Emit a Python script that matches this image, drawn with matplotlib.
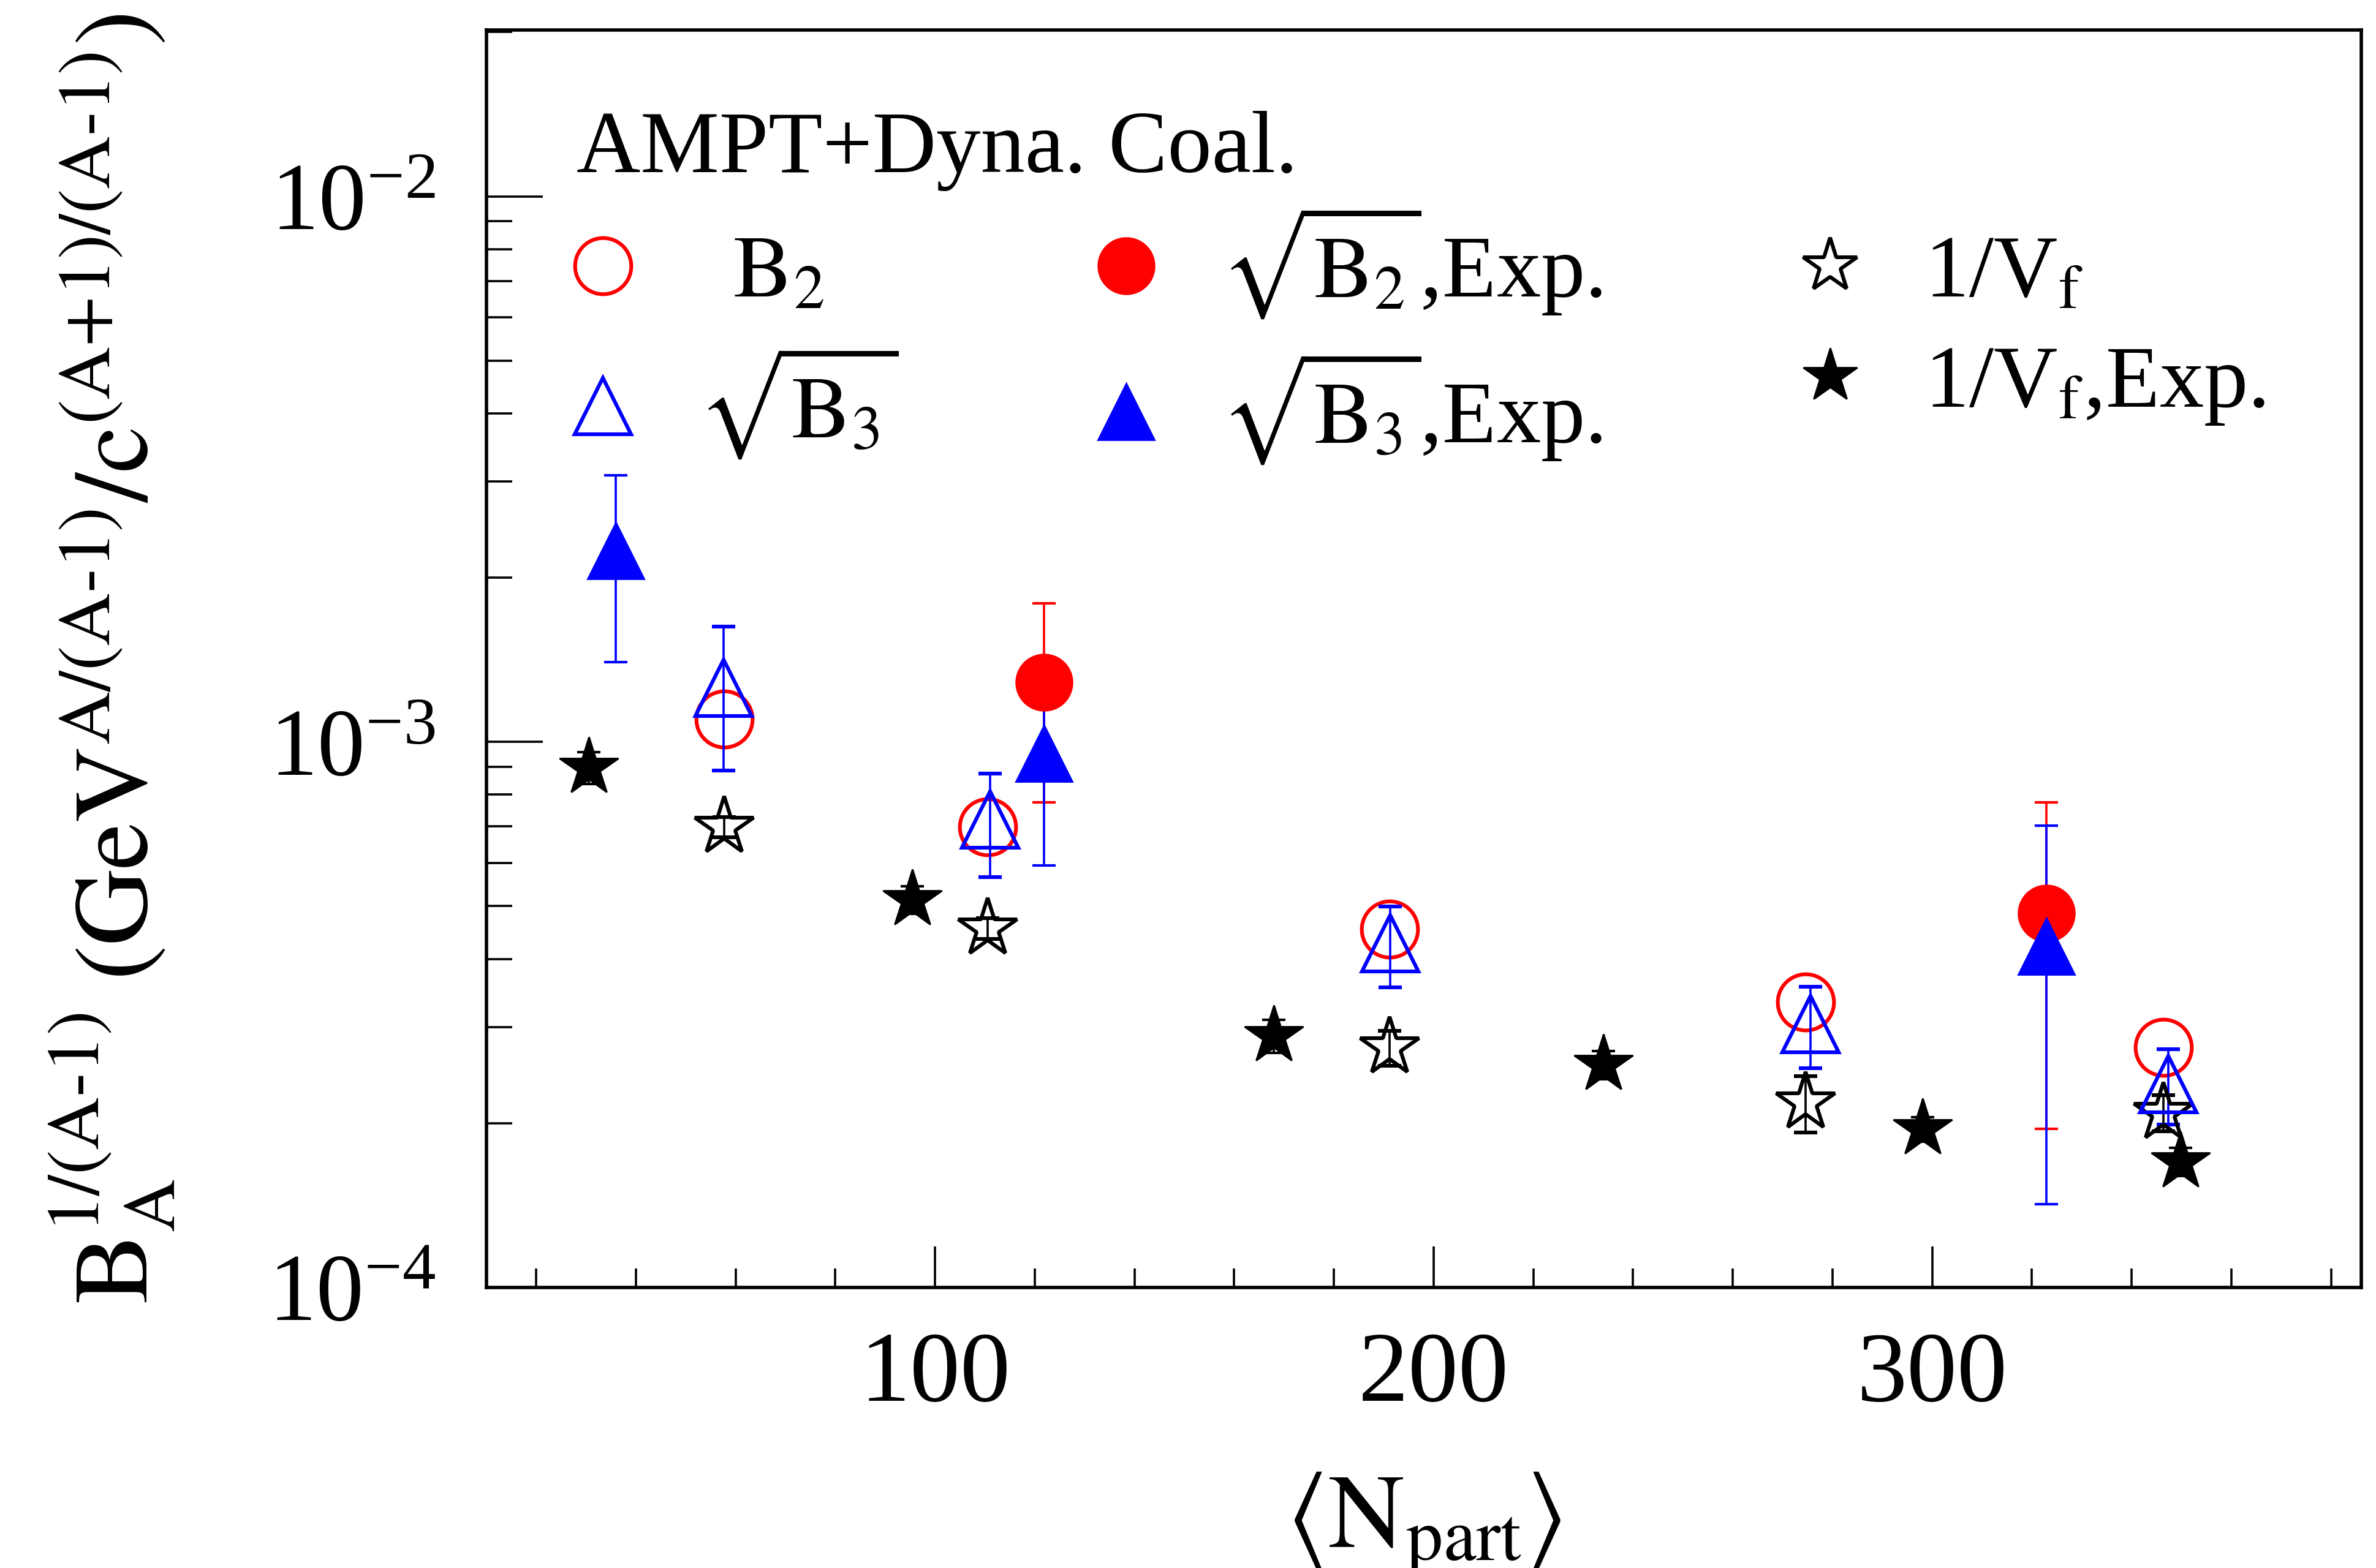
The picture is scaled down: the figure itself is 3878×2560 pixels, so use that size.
import matplotlib
matplotlib.use('Agg')
import matplotlib.pyplot as plt
from matplotlib.lines import Line2D
from matplotlib.ticker import MultipleLocator, LogLocator, NullFormatter

plt.rcParams['font.family'] = ['Liberation Serif', 'DejaVu Serif']
plt.rcParams['mathtext.fontset'] = 'stix'
plt.rcParams['axes.unicode_minus'] = False

# AMPT + dynamical coalescence (model)
npart_b2 = [57.7, 110.6, 191.2, 274.6, 346.3]
b2 = [1.10e-3, 6.98e-4, 4.53e-4, 3.33e-4, 2.75e-4]

npart_b3 = [57.6, 111.0, 191.3, 275.6, 347.4]
b3 = [1.256e-3, 7.2e-4, 4.27e-4, 3.04e-4, 2.36e-4]
b3_err = [3.7e-4, 1.55e-4, 7.2e-5, 5.2e-5, 3.7e-5]

npart_vf = [57.7, 110.6, 191.2, 274.6, 346.3]
inv_vf = [6.98e-4, 4.55e-4, 2.75e-4, 2.18e-4, 2.09e-4]
inv_vf_err = [3e-5, 2e-5, 2e-5, 2.6e-5, 1.6e-5]

# experimental
npart_b2_exp = [121.8, 322.9]
b2_exp = [1.285e-3, 4.85e-4]
b2_exp_err = [5.1e-4, 2.9e-4]

npart_b3_exp = [35.9, 121.8, 322.9]
b3_exp = [2.24e-3, 9.53e-4, 4.22e-4]
b3_exp_err = [8.4e-4, 3.6e-4, 2.8e-4]

npart_vf_exp = [30.5, 95.4, 167.9, 234.0, 298.1, 349.8]
inv_vf_exp = [8.98e-4, 5.14e-4, 2.89e-4, 2.56e-4, 1.95e-4, 1.70e-4]
inv_vf_exp_err = [6e-5, 3e-5, 2e-5, 1.5e-5, 1e-5, 1e-5]

ms = 33
mew = 2.2
eb = dict(capsize=7, capthick=1.5, elinewidth=1.3, ls='none')

fig = plt.figure(figsize=(19.39, 12.8), dpi=200)
ax = fig.add_axes([0.2047, 0.179, 0.789, 0.802])

ax.errorbar(npart_vf_exp, inv_vf_exp, yerr=inv_vf_exp_err, fmt='*', color='black', ms=ms + 3, **eb)
ax.errorbar(npart_vf, inv_vf, yerr=inv_vf_err, fmt='*', color='black', mfc='none', mew=mew, ms=ms + 3, **eb)
ax.plot(npart_b2, b2, 'o', mfc='none', mec='red', mew=mew, ms=ms, ls='none')
ax.errorbar(npart_b3, b3, yerr=b3_err, fmt='^', color='blue', mfc='none', mew=mew, ms=ms, **eb)
ax.errorbar(npart_b2_exp, b2_exp, yerr=b2_exp_err, fmt='o', color='red', ms=ms, **eb)
ax.errorbar(npart_b3_exp, b3_exp, yerr=b3_exp_err, fmt='^', color='blue', ms=ms, **eb)

ax.set_yscale('log')
ax.set_xlim(10, 386)
ax.set_ylim(1e-4, 0.0202)

ax.xaxis.set_major_locator(MultipleLocator(100))
ax.xaxis.set_minor_locator(MultipleLocator(20))
ax.yaxis.set_major_locator(LogLocator(base=10))
ax.yaxis.set_minor_locator(LogLocator(base=10, subs=range(2, 10)))
ax.yaxis.set_minor_formatter(NullFormatter())

ax.tick_params(axis='both', which='both', direction='in', top=False, right=False, width=1.3)
ax.tick_params(axis='x', which='major', length=24, pad=26, labelsize=59)
ax.tick_params(axis='x', which='minor', length=11)
ax.tick_params(axis='y', which='major', length=33, pad=30, labelsize=56)
ax.tick_params(axis='y', which='minor', length=15)
for s in ax.spines.values():
    s.set_linewidth(2)

ax.set_xlabel(r'$\langle\mathrm{N}_{\mathrm{part}}\rangle$', fontsize=62, labelpad=28)
ax.set_ylabel(r'$\mathrm{B}_{\mathrm{A}}^{\text{1/(A-1)}}\ (\mathrm{GeV}^{\text{A/(A-1)}}/\mathrm{c}^{\text{(A+1)/(A-1)}})$',
              fontsize=62)
ax.yaxis.set_label_coords(-0.165, 0.5)

ax.text(0.048, 0.9036, 'AMPT+Dyna. Coal.', transform=ax.transAxes, fontsize=52,
        ha='left', va='center')

handles = [
    Line2D([], [], ls='none', marker='o', mfc='none', mec='red', mew=mew, ms=ms),
    Line2D([], [], ls='none', marker='^', mfc='none', mec='blue', mew=mew, ms=ms),
    Line2D([], [], ls='none', marker='o', color='red', ms=ms),
    Line2D([], [], ls='none', marker='^', color='blue', ms=ms),
    Line2D([], [], ls='none', marker='*', mfc='none', mec='black', mew=mew, ms=ms),
    Line2D([], [], ls='none', marker='*', color='black', ms=ms),
]
labels = [
    r'$\;\;\mathrm{B}_2$',
    r'$\sqrt{\mathrm{B}_3}$',
    r'$\sqrt{\mathrm{B}_2}$,Exp.',
    r'$\sqrt{\mathrm{B}_3}$,Exp.',
    r'1/V$_\mathrm{f}$',
    r'1/V$_\mathrm{f}$,Exp.',
]
ax.legend(handles, labels, ncol=3, loc='center left', bbox_to_anchor=(0.048, 0.757),
          frameon=False, fontsize=52, handlelength=0.6, handletextpad=0.77,
          columnspacing=2.27, labelspacing=0.33, borderpad=0, borderaxespad=0)

fig.savefig('out.png', dpi=200)
